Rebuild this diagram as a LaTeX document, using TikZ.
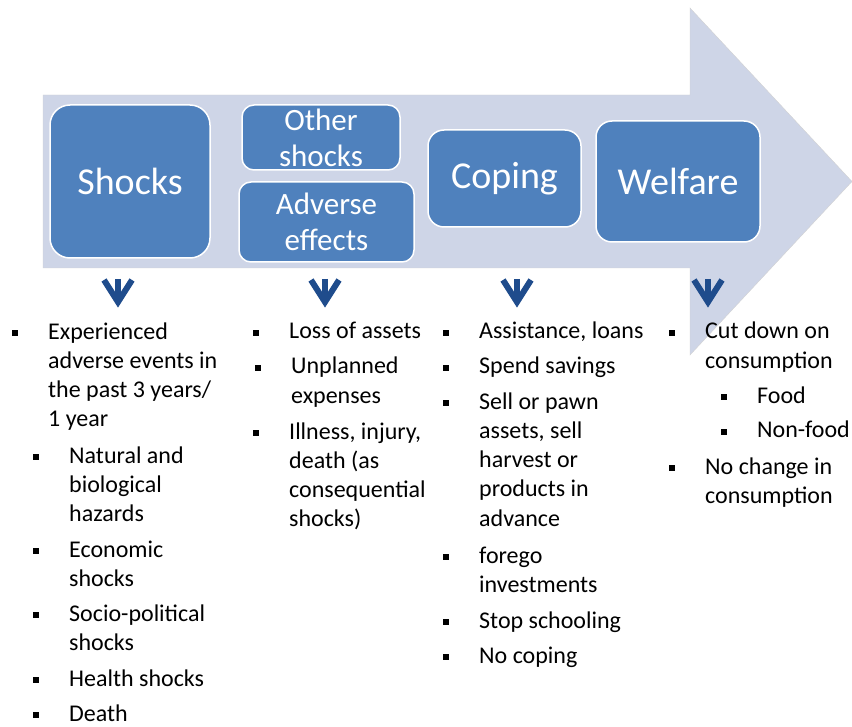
\documentclass[tikz,border=0pt]{standalone}
\usepackage{fontspec}
\setmainfont{Carlito}
\definecolor{arrowfill}{RGB}{206,213,231}
\definecolor{boxblue}{RGB}{79,129,189}
\definecolor{navyblue}{RGB}{31,76,140}
\newcommand{\sqb}{\llap{\rule[2.6pt]{6pt}{6pt}\hspace{30pt}}}

\begin{document}
\begin{tikzpicture}[x=1pt, y=-1pt]
    % Estilos
    \tikzset{
        stagebox/.style={
            draw=white, line width=1.5pt, fill=boxblue, rounded corners=12pt, text=white, align=center, inner sep=0pt
        },
        bigtext/.style={font=\fontsize{38}{44}\selectfont},
        pairtext/.style={font=\fontsize{31}{36}\selectfont},
        listitem/.style={anchor=base west, align=left, inner sep=0pt, font=\fontsize{24}{29.3}\selectfont},
        downarrow/.style={draw=navyblue, line width=6pt}
    }
    \useasboundingbox (0,0) rectangle (852,727);

    % Flecha de fondo
    \fill[arrowfill, draw=gray!35] (43,95) -- (690,95) -- (690,8) -- (852,181.5) -- (690,355) -- (690,268) -- (43,268) -- cycle;

    % Bloques
    \node[stagebox, bigtext, minimum width=160, minimum height=153, rounded corners=20pt] (shocks) at (130,181.5) {Shocks};
    \node[stagebox, pairtext, minimum width=158, minimum height=65] (other) at (321,137.5) {Other\\shocks};
    \node[stagebox, pairtext, minimum width=175, minimum height=80] (adverse) at (326.5,222) {Adverse\\effects};
    \node[stagebox, bigtext, minimum width=153, minimum height=97, rounded corners=16pt] (coping) at (504.5,178.5) {Coping};
    \node[stagebox, bigtext, minimum width=164, minimum height=121, rounded corners=16pt] (welfare) at (678,181.5) {Welfare};

    % Flechas hacia abajo
    \foreach \x in {118,325,517,708} {
        \draw[downarrow] (\x,279) -- (\x,300);
        \draw[downarrow, line join=miter] (\x-14,280) -- (\x,302) -- (\x+14,280);
    }

    % Listas (base = ultima linea)
    \node[listitem] (experienced) at (48,426.9) {\sqb Experienced\\adverse events in\\the past 3 years/\\1 year};
    \node[listitem] (natural) at (69,521.6) {\sqb Natural and\\biological\\hazards};
    \node[listitem] (economic) at (69,586.3) {\sqb Economic\\shocks};
    \node[listitem] (socio) at (69,650.3) {\sqb Socio-political\\shocks};
    \node[listitem] (health) at (69,686) {\sqb Health shocks};
    \node[listitem] (death) at (69,721) {\sqb Death};

    \node[listitem] (loss) at (289,339) {\sqb Loss of assets};
    \node[listitem] (unplanned) at (291,403.3) {\sqb Unplanned\\expenses};
    \node[listitem] (illness) at (289,526.9) {\sqb Illness, injury,\\death (as\\consequential\\shocks)};

    \node[listitem] (assist) at (479,339) {\sqb Assistance, loans};
    \node[listitem] (spend) at (479,374) {\sqb Spend savings};
    \node[listitem] (sell) at (479,526.2) {\sqb Sell or pawn\\assets, sell\\harvest or\\products in\\advance};
    \node[listitem] (forego) at (479,592.3) {\sqb forego\\investments};
    \node[listitem] (stop) at (479,628) {\sqb Stop schooling};
    \node[listitem] (nocoping) at (479,663) {\sqb No coping};

    \node[listitem] (cutdown) at (705,368.3) {\sqb Cut down on\\consumption};
    \node[listitem] (food) at (757,403) {\sqb Food};
    \node[listitem] (nonfood) at (757,438) {\sqb Non-food};
    \node[listitem] (nochange) at (705,503.3) {\sqb No change in\\consumption};
\end{tikzpicture}
\end{document}
